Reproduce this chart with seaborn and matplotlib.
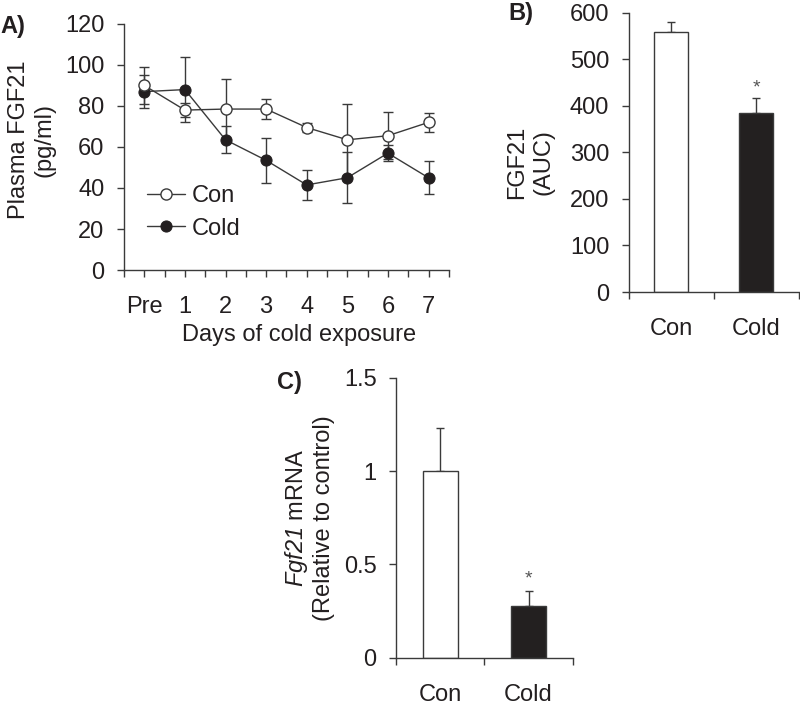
import numpy as np
import pandas as pd
import matplotlib
matplotlib.use("Agg")
import matplotlib.pyplot as plt
import seaborn as sns

# Panel A: plasma FGF21 over days of cold exposure
days = ["Pre", "1", "2", "3", "4", "5", "6", "7"]
con_mean = [90, 78, 78.5, 78.5, 69.5, 63.5, 65.5, 72]
con_sem = [9, 3.5, 14.5, 5, 2, 17.5, 11.5, 4.5]
cold_mean = [87, 88, 63.5, 53.5, 41.5, 45, 57, 45]
cold_sem = [8, 16, 6.5, 11, 7.5, 12.5, 4, 8]

# Panel B: FGF21 AUC
groups = ["Con", "Cold"]
auc_mean = [559, 385]
auc_sem = [21, 33]

# Panel C: Fgf21 mRNA
mrna_mean = [1.0, 0.275]
mrna_sem = [0.23, 0.085]

INK = "#231f20"
SPINE = "#3a3a3a"
FS = 17

sns.set_style("ticks")
plt.rcParams["font.family"] = ["Liberation Sans", "DejaVu Sans"]
# only the gene name is mathtext, so both math fonts italic (digits included)
plt.rcParams["mathtext.fontset"] = "custom"
plt.rcParams["mathtext.rm"] = "Liberation Sans:italic"
plt.rcParams["mathtext.it"] = "Liberation Sans:italic"
plt.rcParams["text.color"] = INK
plt.rcParams["axes.labelcolor"] = INK
plt.rcParams["xtick.color"] = SPINE
plt.rcParams["ytick.color"] = SPINE
plt.rcParams["xtick.labelcolor"] = INK
plt.rcParams["ytick.labelcolor"] = INK

fig = plt.figure(figsize=(8, 7.05), dpi=100)
ax_a = fig.add_axes([0.155, 0.617, 0.406, 0.349])
ax_b = fig.add_axes([0.786, 0.5858, 0.2125, 0.396])
ax_c = fig.add_axes([0.495, 0.0671, 0.221, 0.397])


def style_axis(ax):
    sns.despine(ax=ax)
    for side in ("left", "bottom"):
        ax.spines[side].set_color(SPINE)
        ax.spines[side].set_linewidth(1.0)
    ax.tick_params(axis="y", direction="out", length=5, width=1.0, pad=9, labelsize=FS)


# ---- A) line chart with error bars
xpos = np.arange(len(days))
df_a = pd.DataFrame({"x": np.concatenate([xpos, xpos]),
                     "y": con_mean + cold_mean,
                     "grp": ["Con"] * len(days) + ["Cold"] * len(days)})
ax_a.errorbar(xpos, con_mean, yerr=con_sem, fmt="none", ecolor=SPINE,
              elinewidth=1.0, capsize=3.5, capthick=1.0, zorder=2)
ax_a.errorbar(xpos, cold_mean, yerr=cold_sem, fmt="none", ecolor=SPINE,
              elinewidth=1.0, capsize=3.5, capthick=1.0, zorder=2)
sns.lineplot(data=df_a[df_a.grp == "Cold"], x="x", y="y", ax=ax_a, color=SPINE,
             marker="o", markersize=8, markerfacecolor=INK, markeredgecolor=INK,
             linewidth=1.0, label="Cold", zorder=3)
sns.lineplot(data=df_a[df_a.grp == "Con"], x="x", y="y", ax=ax_a, color=SPINE,
             marker="o", markersize=8, markerfacecolor="white", markeredgecolor=SPINE,
             markeredgewidth=1.0, linewidth=1.0, label="Con", zorder=4)
style_axis(ax_a)
ax_a.set_xlim(-0.5, 7.5)
ax_a.set_ylim(0, 120)
ax_a.set_yticks(np.arange(0, 121, 20))
ax_a.set_xticks(xpos)
ax_a.set_xticklabels(days)
ax_a.set_xticks(np.arange(-0.5, 7.6, 1.0), minor=True)
ax_a.tick_params(axis="x", which="both", direction="out", length=5, width=1.0,
                 pad=14, labelsize=FS)
ax_a.set_xlabel("Days of cold exposure", fontsize=FS)
ax_a.xaxis.set_label_coords(0.54, -0.22)
ax_a.set_ylabel("Plasma FGF21\n(pg/ml)", fontsize=FS)
ax_a.yaxis.set_label_coords(-0.21, 0.53)
handles, labels = ax_a.get_legend_handles_labels()
order = [labels.index("Con"), labels.index("Cold")]
ax_a.legend([handles[i] for i in order], [labels[i] for i in order],
            loc="upper left", bbox_to_anchor=(0.072, 0.345), frameon=False,
            fontsize=FS, handlelength=1.6, handletextpad=0.3, labelspacing=0.45,
            borderpad=0, borderaxespad=0)
fig.text(0.0, 0.962, "A)", fontsize=FS, fontweight="bold", va="center", ha="left")


# ---- bar panels
def bar_panel(ax, means, sems, ymax, yticks, ticklabels, star_offset):
    sns.barplot(x=groups, y=means, hue=groups, palette=["white", INK], legend=False,
                width=0.4, edgecolor=SPINE, linewidth=1.0, ax=ax, zorder=2)
    pos = np.arange(len(groups))
    ax.errorbar(pos, means, yerr=[np.zeros(len(sems)), sems], fmt="none",
                ecolor=SPINE, elinewidth=1.0, capsize=3, capthick=1.0, zorder=1)
    style_axis(ax)
    ax.set_xlim(-0.5, 1.5)
    ax.set_ylim(0, ymax)
    ax.set_yticks(yticks)
    ax.set_yticklabels(ticklabels)
    ax.set_xticks(pos)
    ax.set_xticklabels(groups)
    ax.set_xticks([-0.5, 0.5, 1.5], minor=True)
    ax.tick_params(axis="x", which="major", length=0, pad=19, labelsize=FS)
    ax.tick_params(axis="x", which="minor", direction="out", length=5, width=1.0)
    ax.set_xlabel("")
    ax.annotate("*", xy=(1, means[1] + sems[1]), xytext=(0, star_offset),
                textcoords="offset points", ha="center", va="center",
                fontsize=14, color="#555555")


bar_panel(ax_b, auc_mean, auc_sem, 600, np.arange(0, 601, 100),
          [str(v) for v in range(0, 601, 100)], 7)
ax_b.set_ylabel("FGF21\n(AUC)", fontsize=FS)
ax_b.yaxis.set_label_coords(-0.44, 0.465)
fig.text(0.635, 0.981, "B)", fontsize=FS, fontweight="bold", va="center", ha="left")

bar_panel(ax_c, mrna_mean, mrna_sem, 1.5, [0, 0.5, 1, 1.5],
          ["0", "0.5", "1", "1.5"], 8)
ax_c.set_ylabel("$\\it{Fgf21}$ mRNA\n(Relative to control)", fontsize=FS)
ax_c.yaxis.set_label_coords(-0.345, 0.5)
fig.text(0.346, 0.458, "C)", fontsize=FS, fontweight="bold", va="center", ha="left")

fig.savefig("out.png", dpi=100)
